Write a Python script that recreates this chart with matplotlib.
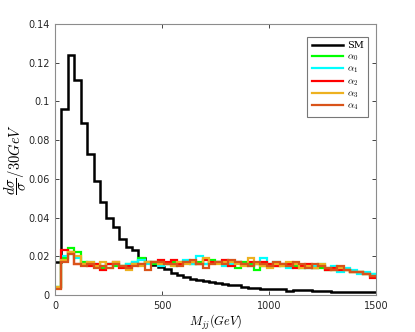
import numpy as np
import matplotlib
matplotlib.use("Agg")
import matplotlib.pyplot as plt

plt.rcParams['mathtext.fontset'] = 'cm'

bin_width = 30
n_bins = 50
edges = np.arange(0, (n_bins + 1) * bin_width, bin_width)

sm = [0.017, 0.096, 0.124, 0.111, 0.089, 0.073, 0.059, 0.048, 0.040, 0.035,
      0.029, 0.025, 0.023, 0.019, 0.017, 0.0155, 0.0145, 0.0133, 0.0115, 0.0105,
      0.0095, 0.0085, 0.0078, 0.0072, 0.0068, 0.0062, 0.0058, 0.0054, 0.0050, 0.0043,
      0.0036, 0.0035, 0.0033, 0.0030, 0.0032, 0.0033, 0.0020, 0.0027, 0.0024, 0.0025,
      0.0022, 0.0023, 0.0019, 0.0018, 0.0016, 0.0016, 0.0015, 0.0016, 0.0014, 0.0017]

alpha0 = [0.004, 0.019, 0.0245, 0.022, 0.017, 0.016, 0.015, 0.014, 0.016, 0.015,
          0.015, 0.016, 0.017, 0.019, 0.017, 0.016, 0.016, 0.016, 0.017, 0.016,
          0.017, 0.016, 0.017, 0.016, 0.018, 0.017, 0.017, 0.016, 0.014, 0.017,
          0.016, 0.013, 0.015, 0.016, 0.015, 0.015, 0.016, 0.015, 0.014, 0.015,
          0.014, 0.014, 0.013, 0.013, 0.014, 0.013, 0.012, 0.012, 0.011, 0.011]

alpha1 = [0.004, 0.020, 0.021, 0.019, 0.016, 0.017, 0.016, 0.015, 0.016, 0.016,
          0.015, 0.016, 0.017, 0.018, 0.016, 0.017, 0.015, 0.016, 0.015, 0.017,
          0.018, 0.016, 0.020, 0.016, 0.017, 0.017, 0.015, 0.016, 0.017, 0.016,
          0.015, 0.016, 0.019, 0.015, 0.017, 0.016, 0.014, 0.016, 0.015, 0.014,
          0.015, 0.016, 0.014, 0.015, 0.012, 0.014, 0.013, 0.011, 0.012, 0.011]

alpha2 = [0.0035, 0.023, 0.022, 0.016, 0.016, 0.015, 0.016, 0.013, 0.016, 0.017,
          0.014, 0.015, 0.016, 0.016, 0.017, 0.017, 0.018, 0.017, 0.018, 0.016,
          0.017, 0.017, 0.016, 0.018, 0.017, 0.017, 0.018, 0.015, 0.017, 0.016,
          0.017, 0.016, 0.017, 0.016, 0.015, 0.016, 0.016, 0.014, 0.015, 0.016,
          0.014, 0.015, 0.013, 0.014, 0.013, 0.013, 0.012, 0.012, 0.011, 0.009]

alpha3 = [0.004, 0.018, 0.022, 0.020, 0.016, 0.017, 0.015, 0.017, 0.014, 0.017,
          0.015, 0.013, 0.016, 0.015, 0.017, 0.017, 0.016, 0.016, 0.015, 0.017,
          0.016, 0.017, 0.016, 0.019, 0.016, 0.016, 0.017, 0.017, 0.016, 0.015,
          0.019, 0.016, 0.015, 0.014, 0.016, 0.015, 0.017, 0.016, 0.014, 0.015,
          0.014, 0.016, 0.014, 0.013, 0.014, 0.013, 0.012, 0.012, 0.011, 0.010]

alpha4 = [0.003, 0.017, 0.021, 0.016, 0.015, 0.016, 0.014, 0.015, 0.014, 0.016,
          0.015, 0.014, 0.015, 0.016, 0.013, 0.017, 0.017, 0.016, 0.016, 0.015,
          0.017, 0.018, 0.016, 0.014, 0.016, 0.017, 0.016, 0.018, 0.017, 0.016,
          0.015, 0.017, 0.016, 0.015, 0.017, 0.016, 0.015, 0.017, 0.016, 0.014,
          0.016, 0.015, 0.014, 0.013, 0.015, 0.013, 0.012, 0.012, 0.011, 0.010]

labels = ['SM', r'$\alpha_0$', r'$\alpha_1$', r'$\alpha_2$', r'$\alpha_3$', r'$\alpha_4$']
colors = ['#000000', '#00ff00', '#00ffff', '#ff0000', '#edb120', '#d95319']
series = [sm, alpha0, alpha1, alpha2, alpha3, alpha4]

xticks = [0, 500, 1000, 1500]
yticks = [0, 0.02, 0.04, 0.06, 0.08, 0.1, 0.12, 0.14]
ytick_labels = ['0', '0.02', '0.04', '0.06', '0.08', '0.1', '0.12', '0.14']

fig = plt.figure(figsize=(4.15, 3.32), dpi=100)
ax = fig.add_axes([0.1325, 0.1114, 0.7735, 0.8163])

for vals, lab, col in zip(series, labels, colors):
    ax.stairs(vals, edges, color=col, linewidth=1.8 if lab == 'SM' else 1.6,
              label=lab, baseline=None)

ax.set_xlim(0, 1500)
ax.set_ylim(0, 0.14)
ax.set_xticks(xticks)
ax.set_xticklabels([str(t) for t in xticks])
ax.set_yticks(yticks)
ax.set_yticklabels(ytick_labels)
ax.tick_params(direction='in', top=True, right=True, labelsize=7, length=3,
               width=0.6, colors='#262626', pad=4)
for sp in ax.spines.values():
    sp.set_color('#8c8c8c')
    sp.set_linewidth(0.8)

ax.set_xlabel(r'$M_{jj}(GeV)$', fontsize=9, labelpad=2)
ax.set_ylabel(r'$\dfrac{d\sigma}{\sigma}/30GeV$', fontsize=10.5, labelpad=0)

leg = ax.legend(loc='upper right', frameon=True, fancybox=False,
                edgecolor='#555555', handlelength=3.2, borderpad=0.45,
                labelspacing=0.18, handletextpad=0.4,
                prop={'family': 'DejaVu Serif', 'size': 7},
                bbox_to_anchor=(0.99, 0.97))
leg.get_frame().set_linewidth(0.8)

fig.savefig('out.png', dpi=100)
